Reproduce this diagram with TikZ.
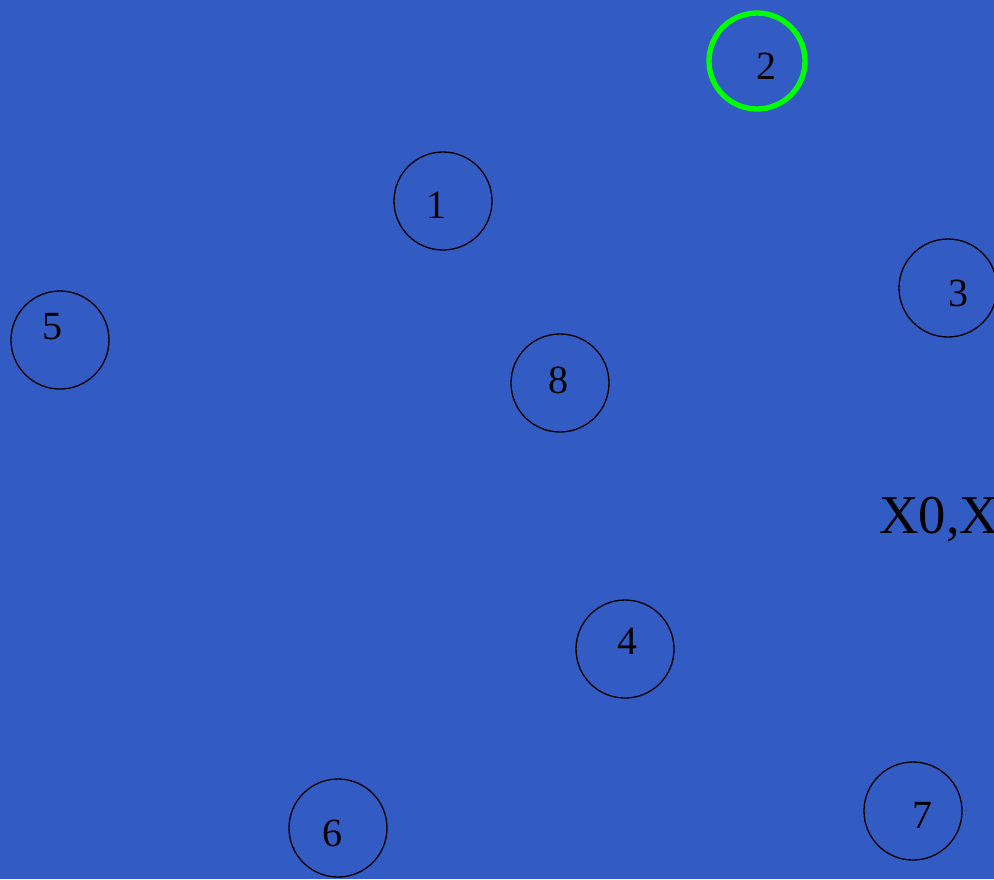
\documentclass[tikz,border=0pt]{standalone}
\usepackage{fontspec}
\setmainfont{Liberation Serif}
\definecolor{bgblue}{RGB}{50,92,196}
\definecolor{ringgreen}{RGB}{0,255,0}
\tikzset{
	ring/.style={circle,draw=black,line width=1pt,minimum size=73.5pt,inner sep=0pt},
	hot/.style={ring,draw=ringgreen,line width=4pt,minimum size=72pt},
	num/.style={inner sep=0pt,font=\fontsize{30}{30}\selectfont}
}
\begin{document}
\begin{tikzpicture}[x=0.75pt,y=-0.75pt]
			\fill[bgblue] (0,0) rectangle (994,879);
			\useasboundingbox (0,0) rectangle (994,879);
			\clip (0,0) rectangle (994,879);
			\node[hot] (c2) at (757,61) {};
			\node[ring] (c1) at (443,201) {};
			\node[ring] (c3) at (948,288) {};
			\node[ring] (c5) at (60,340) {};
			\node[ring] (c8) at (560,383) {};
			\node[ring] (c4) at (625,649) {};
			\node[ring] (c6) at (338,828) {};
			\node[ring] (c7) at (913,811) {};
			\node[num] (l2) at (766,66) {2};
			\node[num] (l1) at (436,205) {1};
			\node[num] (l3) at (958,293) {3};
			\node[num] (l5) at (52,327) {5};
			\node[num] (l8) at (558,380) {8};
			\node[num] (l4) at (627,641) {4};
			\node[num] (l6) at (332,833) {6};
			\node[num] (l7) at (922,815) {7};
			\node[anchor=base west,inner sep=0pt,font=\fontsize{41}{41}\selectfont] (xs) at (879,533) {X0,X1};
		\end{tikzpicture}
\end{document}
